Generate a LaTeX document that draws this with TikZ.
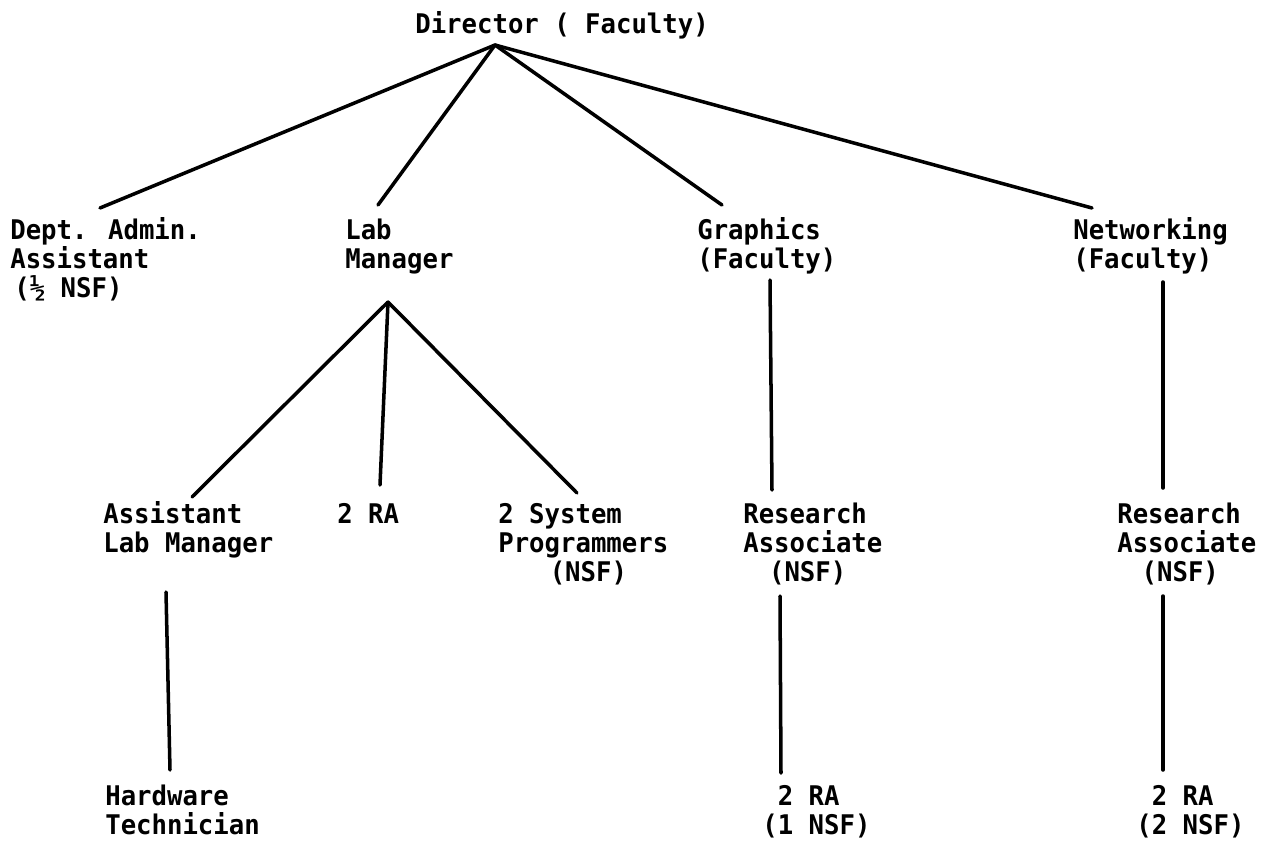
\documentclass[tikz,border=0pt]{standalone}
\usepackage{fontspec}
\setmainfont{DejaVu Sans Mono}[FakeStretch=0.948]
\begin{document}
\begin{tikzpicture}[x=0.02cm,y=-0.02cm,
  lbl/.style={anchor=base west,inner sep=0pt,align=left,font=\fontsize{15.4pt}{16.4pt}\selectfont\bfseries},
  edge/.style={line width=2pt,line cap=round}]
\useasboundingbox (0,0) rectangle (1276,849);
% nodes (position = baseline of the last line)
\node[lbl] (dir) at (415,33) {Director ( Faculty)};
\node[lbl] (dept) at (10,297) {Dept. Admin.\\Assistant\\\hspace*{0.15em}(½ NSF)};
\node[lbl] (lab) at (345,268) {Lab\\Manager};
\node[lbl] (gra) at (697,268) {Graphics\\(Faculty)};
\node[lbl] (net) at (1073,268) {Networking\\(Faculty)};
\node[lbl] (alm) at (103,552) {Assistant\\Lab Manager};
\node[lbl] (ra1) at (337,523) {2 RA};
\node[lbl] (sys) at (498,581) {2 System\\Programmers\\\hspace*{1.9em}(NSF)};
\node[lbl] (rag) at (743,581) {Research\\Associate\\\hspace*{0.95em}(NSF)};
\node[lbl] (ran) at (1117,581) {Research\\Associate\\\hspace*{0.9em}(NSF)};
\node[lbl] (hw) at (105,834) {Hardware\\Technician};
\node[lbl] (rag2) at (762,834) {\hspace*{0.57em}2 RA\\(1 NSF)};
\node[lbl] (ran2) at (1136,834) {\hspace*{0.57em}2 RA\\(2 NSF)};
% connector end points
\coordinate (dirhub) at (495,45);
\coordinate (deptT) at (100,208);
\coordinate (labT) at (378,205);
\coordinate (graT) at (722,205);
\coordinate (netT) at (1092,208);
\coordinate (labB) at (388,302);
\coordinate (almT) at (192,497);
\coordinate (ra1T) at (380,485);
\coordinate (sysT) at (577,493);
\coordinate (graB) at (770,280);
\coordinate (ragT) at (772,490);
\coordinate (netB) at (1163,282);
\coordinate (ranT) at (1163,488);
\coordinate (almB) at (166,592);
\coordinate (hwT) at (170,770);
\coordinate (ragB) at (780,596);
\coordinate (rag2T) at (781,773);
\coordinate (ranB) at (1163,596);
\coordinate (ran2T) at (1163,770);
% connectors
\draw[edge] (dirhub) -- (deptT);
\draw[edge] (dirhub) -- (labT);
\draw[edge] (dirhub) -- (graT);
\draw[edge] (dirhub) -- (netT);
\draw[edge] (labB) -- (almT);
\draw[edge] (labB) -- (ra1T);
\draw[edge] (labB) -- (sysT);
\draw[edge] (graB) -- (ragT);
\draw[edge] (netB) -- (ranT);
\draw[edge] (almB) -- (hwT);
\draw[edge] (ragB) -- (rag2T);
\draw[edge] (ranB) -- (ran2T);
\end{tikzpicture}
\end{document}
